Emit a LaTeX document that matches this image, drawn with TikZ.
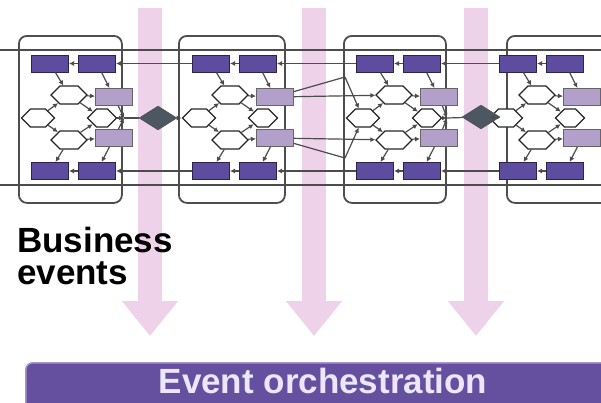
\documentclass[tikz,border=0pt]{standalone}
\usepackage{fontspec}
\setmainfont{Liberation Sans}
\usetikzlibrary{arrows.meta,positioning,shapes.geometric,shapes.symbols}
\definecolor{evpurple}{RGB}{94,76,158}
\definecolor{evink}{RGB}{44,36,80}
\definecolor{evlilac}{RGB}{178,160,202}
\definecolor{evpink}{RGB}{238,210,234}
\definecolor{evslate}{RGB}{76,87,98}
\definecolor{evbar}{RGB}{101,80,160}
\definecolor{evbaredge}{RGB}{168,150,208}
\definecolor{evbartext}{RGB}{236,230,250}
\definecolor{evframe}{RGB}{78,78,78}
\tikzset{%
	panelbox/.style = {draw=evframe, line width=1.8pt, rounded corners=8pt, minimum height=167pt, inner sep=0pt},
	task/.style     = {draw=evink, fill=evpurple, line width=1pt, minimum width=37pt, minimum height=17pt, inner sep=0pt}, % Task
	activity/.style = {draw=black!85, fill=white, line width=1.3pt, signal, signal to=east and west, minimum width=33pt, minimum height=18pt, inner sep=0pt},
	result/.style   = {draw=black!60, fill=evlilac, line width=1pt, minimum width=37pt, minimum height=17pt, inner sep=0pt},
	gateway/.style  = {draw=black!70, fill=evslate, diamond, minimum width=38pt, minimum height=24pt, inner sep=0pt},
	waypoint/.style = {coordinate},
}
\tikzset{%
	link/.style     = {draw=black!70, line width=1.2pt},
	flow/.style     = {link, -{Latex[length=5pt,width=5pt]}},
	event/.style    = {draw=evpink, line width=24pt, -{Triangle[width=54pt,length=35pt]}},
	orchbar/.style  = {fill=evbar, draw=evbaredge, line width=1.5pt, rounded corners=7pt, minimum width=620pt, minimum height=70pt},
	bigtext/.style  = {font=\bfseries\fontsize{35}{35}\selectfont, inner sep=0pt},
}

\begin{document}
\begin{tikzpicture}[x=1pt, y=-1pt]
	\useasboundingbox (0,0) rectangle (601,402);
	% business events
	\foreach \i/\ex in {1/150, 2/314, 3/476} {
		\coordinate (ev\i) at (\ex,8);
		\coordinate (ev\i end) at (\ex,336);
		\draw[event] (ev\i) -- (ev\i end);
	}
	\coordinate (in1) at (0,50);
	\coordinate (out1) at (601,50);
	\coordinate (in2) at (0,185);
	\coordinate (out2) at (601,185);
	\draw[link] (in1) -- (out1);
	\draw[link] (in2) -- (out2);
	% process panels
	\foreach \i/\cx/\fx/\fw in {1/18/18/103, 2/179/178/106, 3/343/343/102, 4/486/506/112} {
		\node[panelbox, minimum width=\fw pt, anchor=north west] (p\i) at (\fx,35) {};
		\node[task] (ta\i) at (\cx+32,63.5) {};
		\node[task] (tb\i) at (\cx+79,63.5) {};
		\node[task] (ba\i) at (\cx+32,171) {};
		\node[task] (bb\i) at (\cx+79,171) {};
		\node[activity] (start\i) at (\cx+20,118) {};
		\node[activity, minimum width=36pt] (up\i) at (\cx+51,95) {};
		\node[activity, minimum width=36pt] (down\i) at (\cx+51,140) {};
		\node[activity, minimum width=29pt] (join\i) at (\cx+84,118) {};
		\node[result] (resa\i) at (\cx+96,97) {};
		\node[result] (resb\i) at (\cx+96,138) {};

		\draw[flow] (tb\i) -- (ta\i);
		\draw[flow] (bb\i) -- (ba\i);
		\draw[flow] (ta\i) -- (up\i);
		\draw[flow] (tb\i) -- (resa\i);
		\draw[flow] (start\i) -- (up\i);
		\draw[flow] (start\i) -- (down\i);
		\draw[flow] (up\i) -- (join\i);
		\draw[flow] (down\i) -- (join\i);
		\draw[flow] (up\i) -- (resa\i);
		\draw[flow] (down\i) -- (resb\i);
		\draw[flow] (down\i) -- (ba\i);
		\draw[flow] (resb\i) -- (bb\i);
	}
	% rows between panels
	\draw[flow] (ta2) -- (tb1);
	\draw[flow] (ta3) -- (tb2);
	\draw[flow] (ta4) -- (tb3);
	\draw[flow] (ba2) -- (bb1);
	\draw[flow] (ba3) -- (bb2);
	\draw[flow] (ba4) -- (bb3);
	% gateways
	\node[waypoint] (e1) at (124,118) {};
	\node[waypoint] (e3) at (447,118) {};
	\node[gateway] (g1) at (158,118) {};
	\node[gateway] (g2) at (481,117) {};
	\draw[flow] (resa1) -- (e1);
	\draw[flow] (resb1) -- (e1);
	\draw[flow] (join1) -- (e1);
	\draw[flow] (resa3) -- (e3);
	\draw[flow] (resb3) -- (e3);
	\draw[flow] (join3) -- (e3);
	\draw[link] (e1) -- (g1);
	\draw[link] (e3) -- (g2);
	\draw[flow] (g1) -- (start2);
	\draw[flow] (g2) -- (start4);
	% panel 2 to panel 3
	\node[waypoint] (w1) at (345,77) {};
	\node[waypoint] (w2) at (345,158) {};
	\draw[flow] (resa2) -- (up3);
	\draw[flow] (resb2) -- (down3);
	\draw[link] (resa2) -- (w1);
	\draw[link] (resb2) -- (w2);
	\draw[flow] (w1) -- (start3);
	\draw[flow] (w2) -- (start3);

	\node[bigtext, anchor=base west] (biz) at (17,252) {Business};
	\node[bigtext, anchor=base west] (evt) at (17,284) {events};
	\node[orchbar, anchor=north west] (bar) at (25,362) {};
	\node[bigtext, text=evbartext, anchor=base] (orch) at (323,393) {Event orchestration};
\end{tikzpicture}
\end{document}
